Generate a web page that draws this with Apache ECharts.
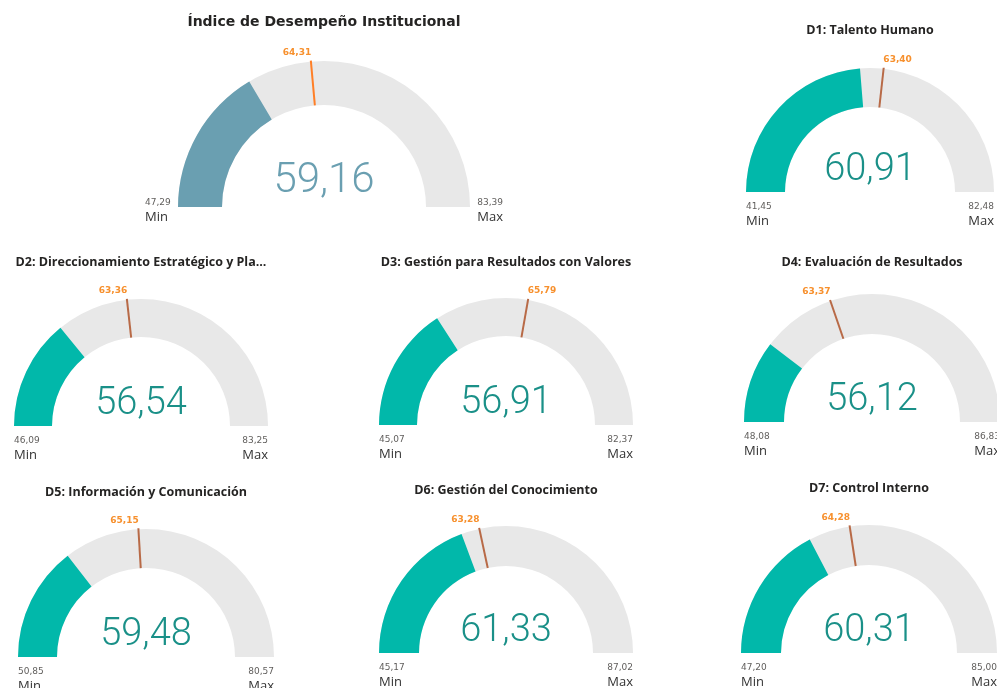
<!DOCTYPE html>
<html>
<head>
<meta charset="utf-8">
<title>Índice de Desempeño Institucional</title>
<script src="https://cdn.jsdelivr.net/npm/echarts@6/dist/echarts.min.js"></script>
<style>
  html, body { margin: 0; padding: 0; background: #fff; }
  #chart { width: 997px; height: 688px; }
</style>
</head>
<body>
<div id="chart"></div>
<script>
// datos de los indicadores
var names = [
  'Índice de Desempeño Institucional',
  'D1: Talento Humano',
  'D2: Direccionamiento Estratégico y Pla...',
  'D3: Gestión para Resultados con Valores',
  'D4: Evaluación de Resultados',
  'D5: Información y Comunicación',
  'D6: Gestión del Conocimiento',
  'D7: Control Interno'
]
var values = [59.16, 60.91, 56.54, 56.91, 56.12, 59.48, 61.33, 60.31]
var targets = [64.31, 63.40, 63.36, 65.79, 63.37, 65.15, 63.28, 64.28]
var mins = [47.29, 41.45, 46.09, 45.07, 48.08, 50.85, 45.17, 47.20]
var maxs = [83.39, 82.48, 83.25, 82.37, 86.83, 80.57, 87.02, 85.00]

// posiciones y estilos
var centers = [[324, 207], [870, 192], [141, 426], [506, 425], [872, 422], [146, 657], [506, 653], [869, 653]]
var radii = [146, 124, 127, 127, 128, 128, 127, 128]
var bands = [44, 39, 38, 38, 40, 39, 40, 40]
var titleGap = [185, 162, 164, 163, 160, 165, 163, 165]
var labelSide = [-1, 1, -1, 1, -1, -1, -1, -1]

var fmt = function (v) {
  return v.toFixed(2).replace('.', ',')
}

var chart = echarts.init(document.getElementById('chart'), null, { renderer: 'canvas' })

var series = []
names.forEach(function (name, i) {
  var main = i === 0
  var r = radii[i]
  var w = bands[i]
  var min = mins[i]
  var max = maxs[i]
  var f = (targets[i] - min) / (max - min)
  var theta = Math.PI * (1 - f)
  var lx = r * Math.cos(theta) + labelSide[i] * 14
  var ly = -r * Math.sin(theta) - 9

  series.push({
    type: 'gauge',
    center: centers[i],
    radius: r,
    startAngle: 180,
    endAngle: 0,
    min: min,
    max: max,
    splitNumber: 1,
    animation: false,
    progress: {
      show: true,
      width: w,
      itemStyle: { color: main ? '#6A9FB1' : '#01B8AA' }
    },
    axisLine: {
      lineStyle: { width: w, color: [[1, '#E8E8E8']] }
    },
    pointer: { show: false },
    anchor: { show: false },
    axisTick: { show: false },
    splitLine: { show: false, length: 0, distance: 0 },
    axisLabel: {
      show: true,
      distance: main ? -33 : 0,
      padding: main ? [6, 0, 0, 0] : [45, 0, 0, 0],
      formatter: function (v) {
        if (v <= (min + max) / 2) {
          return '{nl|' + fmt(min) + '}\n{tl|Min}'
        }
        return '{nr|' + fmt(max) + '}\n{tr|Max}'
      },
      rich: {
        nl: { fontSize: 9, color: '#605E5C', fontFamily: 'DejaVu Sans', align: 'left', lineHeight: 14 },
        nr: { fontSize: 9, color: '#605E5C', fontFamily: 'DejaVu Sans', align: 'right', lineHeight: 14 },
        tl: { fontSize: 13, color: '#333333', fontFamily: 'Open Sans', align: 'left', lineHeight: 15 },
        tr: { fontSize: 13, color: '#333333', fontFamily: 'Open Sans', align: 'right', lineHeight: 15 }
      }
    },
    title: {
      offsetCenter: [0, -titleGap[i]],
      fontSize: main ? 14 : 12.5,
      fontWeight: 'bold',
      fontFamily: main ? 'DejaVu Sans' : 'Open Sans',
      color: '#252423'
    },
    detail: {
      offsetCenter: [0, main ? -26 : -22],
      fontSize: main ? 42 : 38,
      fontWeight: 300,
      fontFamily: 'Roboto',
      color: main ? '#6A9FB1' : '#1A9088',
      formatter: fmt
    },
    data: [{ value: values[i], name: name }]
  })

  // linea de meta
  series.push({
    type: 'gauge',
    center: centers[i],
    radius: r,
    startAngle: 180,
    endAngle: 0,
    min: min,
    max: max,
    animation: false,
    axisLine: { show: false },
    progress: { show: false },
    axisTick: { show: false },
    splitLine: { show: false },
    axisLabel: { show: false },
    anchor: { show: false },
    title: { show: false },
    pointer: {
      show: true,
      icon: 'rect',
      width: 2,
      length: w + 1,
      offsetCenter: [0, -(r - w)],
      itemStyle: { color: main ? '#FF7F27' : '#B86A47' }
    },
    detail: {
      offsetCenter: [lx, ly],
      fontSize: 9,
      fontWeight: 'bold',
      fontFamily: 'DejaVu Sans',
      color: '#F7902D',
      formatter: fmt
    },
    data: [{ value: targets[i] }]
  })
})

chart.setOption({
  backgroundColor: '#ffffff',
  series: series
})
</script>
</body>
</html>
